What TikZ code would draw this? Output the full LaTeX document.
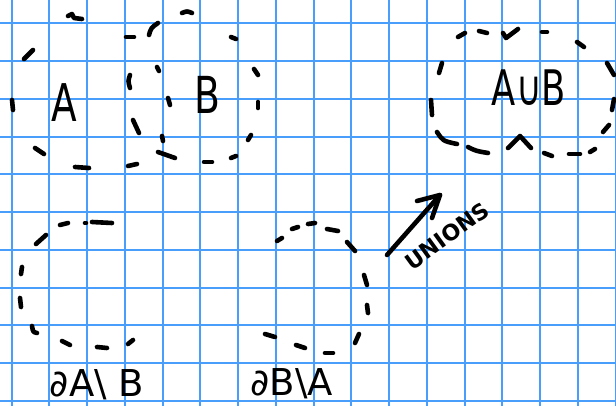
\documentclass[tikz,border=0pt]{standalone}
\usepackage{fontspec}
\setmainfont{DejaVu Sans}
\definecolor{gridblue}{RGB}{72,158,250}
\begin{document}
\begin{tikzpicture}[x=1pt,y=-1pt,
  gridline/.style={gridblue,line width=2pt},
  pen/.style={black,line width=4.6pt,line cap=round,line join=round},
  lbl/.style={inner sep=0pt,anchor=center,text=black}]
\useasboundingbox (0,0) rectangle (616,406);
\fill[white] (0,0) rectangle (616,406);
\begin{scope}
\clip (0,0) rectangle (616,406);
\foreach \k in {0,...,16} \draw[gridline] ({11.7+37.75*\k},0) -- ({11.7+37.75*\k},406);
\foreach \k in {0,...,10} \draw[gridline] (0,{23.3+37.75*\k}) -- (616,{23.3+37.75*\k});
\end{scope}

% circles A and B
\draw[pen] (68,16) -- (72,14) -- (74,18) -- (82,19);
\draw[pen] (24,59) -- (33,50);
\draw[pen] (12,100) -- (13,110);
\draw[pen] (35,148) -- (44,154);
\draw[pen] (75,167) -- (89,168);
\draw[pen] (128,166) -- (137,164);
\draw[pen] (158,152) -- (175,158);
\draw[pen] (162,136) -- (163,141);
\draw[pen] (204,162) -- (212,162);
\draw[pen] (231,158) -- (236,156);
\draw[pen] (248,140) -- (251,135);
\draw[pen] (258,102) -- (258,108);
\draw[pen] (254,69) -- (258,75);
\draw[pen] (231,37) -- (236,39);
\draw[pen] (182,13) .. controls (187,11) .. (192,13);
\draw[pen] (149,35) .. controls (151,28) .. (158,23);
\draw[pen] (126,37) -- (134,37);
\draw[pen] (157,67) -- (159,71);
\draw[pen] (130,75) .. controls (128,81) .. (130,88);
\draw[pen] (168,98) -- (170,105);
\draw[pen] (133,120) -- (139,133);

% A union B
\draw[pen] (458,37) -- (465,33);
\draw[pen] (479,31) -- (487,33);
\draw[pen] (503,33) -- (506,38) -- (518,29);
\draw[pen] (542,32) -- (547,32);
\draw[pen] (577,42) -- (584,47);
\draw[pen] (607,63) -- (614,75);
\draw[pen] (614,99) -- (612,110);
\draw[pen] (603,132) -- (609,125);
\draw[pen] (590,152) -- (595,149);
\draw[pen] (569,154) -- (580,154);
\draw[pen] (544,153) -- (552,156);
\draw[pen] (508,148) -- (520,136) -- (531,148);
\draw[pen] (468,147) .. controls (476,151) .. (488,153);
\draw[pen] (437,132) .. controls (443,141) .. (457,144);
\draw[pen] (431,100) -- (432,115);
\draw[pen] (442,63) -- (439,73);

% boundary of A minus B
\draw[pen] (36,244) -- (46,235);
\draw[pen] (60,225) -- (68,223);
\draw[pen] (85,223) -- (86,223);
\draw[pen] (92,222) -- (112,223);
\draw[pen] (22,267) -- (21,274);
\draw[pen] (20,298) -- (21,307);
\draw[pen] (32,326) .. controls (33,332) .. (37,333);
\draw[pen] (62,341) -- (70,345);
\draw[pen] (97,347) -- (107,348);
\draw[pen] (128,344) -- (133,340);

% boundary of B minus A
\draw[pen] (277,241) -- (282,238);
\draw[pen] (292,229) -- (298,227);
\draw[pen] (308,224) -- (315,223);
\draw[pen] (327,229) -- (338,231);
\draw[pen] (347,242) -- (355,251);
\draw[pen] (364,275) -- (367,285);
\draw[pen] (367,305) -- (368,313);
\draw[pen] (355,343) -- (359,334);
\draw[pen] (325,353) -- (333,353);
\draw[pen] (296,345) -- (305,348);
\draw[pen] (265,334) -- (275,337);

% arrow
\coordinate (tail) at (387,255);
\coordinate (tip) at (440,195);
\coordinate (barbL) at (417,201);
\coordinate (barbR) at (432,218);
\draw[pen] (tail) -- (tip);
\draw[pen] (barbL) -- (tip) -- (barbR);

% labels
\node[lbl] (lA) at (64,103) {\scalebox{0.72}[1]{\fontsize{52}{52}\selectfont A}};
\node[lbl] (lB) at (207,95) {\scalebox{0.74}[1]{\fontsize{51}{51}\selectfont B}};
\node[lbl] (lAuB) at (529,88) {\scalebox{0.72}[1]{\fontsize{49}{49}\selectfont A∪B}};
\node[lbl] (lAmB) at (97,385) {\fontsize{37}{37}\selectfont ∂A\textbackslash\ B};
\node[lbl] (lBmA) at (292,384) {\fontsize{37}{37}\selectfont ∂B\textbackslash A};
\node[lbl,rotate=36] (lU) at (447,236) {\fontsize{22}{22}\selectfont\bfseries UNIONS};
\end{tikzpicture}
\end{document}
